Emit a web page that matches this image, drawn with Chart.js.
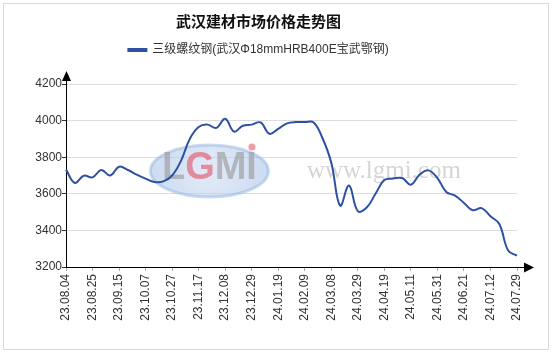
<!DOCTYPE html>
<html>
<head>
<meta charset="utf-8">
<script src="https://cdn.jsdelivr.net/npm/chart.js@4/dist/chart.umd.min.js"></script>
<style>
  html, body { margin: 0; padding: 0; background: #fff; }
  #wrap { width: 554px; height: 356px; position: relative; }
</style>
</head>
<body>
<div id="wrap"><canvas id="c" width="554" height="356"></canvas></div>
<script>
const chartTitle = '武汉建材市场价格走势图';
const seriesName = '三级螺纹钢(武汉Φ18mmHRB400E宝武鄂钢)';
const tickLabels = ['23.08.04','23.08.25','23.09.15','23.10.07','23.10.27','23.11.17','23.12.08','23.12.29','24.01.19','24.02.09','24.03.08','24.03.29','24.04.19','24.05.11','24.05.31','24.06.21','24.07.12','24.07.29'];
const pointsPerLabel = 3;
const prices = [
  3732, 3659, 3699, 3690, 3730, 3700, 3748, 3730, 3705, 3683,
  3665, 3668, 3700, 3780, 3900, 3965, 3978, 3960, 4010, 3940,
  3972, 3978, 3990, 3928, 3955, 3985, 3992, 3992, 3990, 3905,
  3770, 3535, 3645, 3505, 3525, 3600, 3675, 3683, 3686, 3650,
  3705, 3728, 3686, 3610, 3590, 3550, 3510, 3522, 3477, 3435,
  3290, 3262
];
const yMin = 3200, yMax = 4200, yStep = 200;

// categories: one per data point, labelled every third point
const categories = prices.map((_, i) => (i % pointsPerLabel === 0 ? tickLabels[i / pointsPerLabel] : ''));

const latin = "'Liberation Sans', Arial, 'Noto Sans CJK SC', sans-serif";
const lineColor = '#2E50A2';

const decorPlugin = {
  id: 'decor',
  beforeLayout(chart) {
    const lg = chart.legend;
    if (lg && !lg._patched) {
      const orig = lg.fit;
      lg.fit = function () { orig.call(this); this.height += 18; };
      lg._patched = true;
    }
  },
  beforeDraw(chart) {
    const ctx = chart.ctx;
    ctx.save();
    ctx.fillStyle = '#fff';
    ctx.fillRect(0, 0, chart.width, chart.height);
    ctx.strokeStyle = '#d9d9d9';
    ctx.lineWidth = 1;
    ctx.strokeRect(3.5, 3.5, chart.width - 9, chart.height - 10);
    ctx.restore();
  },
  beforeDatasetsDraw(chart) {
    const ctx = chart.ctx, a = chart.chartArea;
    const w = a.right - a.left, h = a.bottom - a.top;
    ctx.save();
    // LGMI logo watermark
    const cx = a.left + w * 0.318, cy = a.top + h * 0.475;
    const g = ctx.createRadialGradient(cx, cy, 5, cx, cy, 60);
    g.addColorStop(0, 'rgba(200,215,240,0.55)');
    g.addColorStop(1, 'rgba(160,190,230,0.55)');
    ctx.beginPath();
    ctx.ellipse(cx, cy, 59, 26, 0, 0, Math.PI * 2);
    ctx.fillStyle = g;
    ctx.fill();
    ctx.lineWidth = 3;
    ctx.strokeStyle = 'rgba(140,175,220,0.45)';
    ctx.stroke();
    ctx.font = "bold 38px 'Liberation Sans', Arial, sans-serif";
    ctx.textBaseline = 'middle';
    ctx.textAlign = 'left';
    const parts = [['L', 'rgba(150,150,150,0.6)'], ['G', 'rgba(225,80,100,0.6)'], ['M', 'rgba(150,150,150,0.6)'], ['I', 'rgba(150,150,150,0.6)']];
    let total = parts.reduce((s, p) => s + ctx.measureText(p[0]).width, 0);
    let x = cx - total / 2;
    parts.forEach(p => {
      ctx.fillStyle = p[1];
      ctx.fillText(p[0], x, cy - 2);
      x += ctx.measureText(p[0]).width;
    });
    ctx.beginPath();
    ctx.arc(x - 5, cy - 24, 3.5, 0, Math.PI * 2);
    ctx.fillStyle = 'rgba(235,90,110,0.6)';
    ctx.fill();
    // url watermark
    ctx.font = "25px 'Liberation Serif', 'Times New Roman', serif";
    ctx.fillStyle = 'rgba(150,150,150,0.4)';
    ctx.textAlign = 'center';
    ctx.fillText('www.lgmi.com', a.left + w * 0.705, a.top + h * 0.48);
    ctx.restore();
  },
  afterDraw(chart) {
    const ctx = chart.ctx, a = chart.chartArea;
    ctx.save();
    ctx.strokeStyle = '#000';
    ctx.fillStyle = '#000';
    ctx.lineWidth = 1;
    // y axis extension + arrow
    const lx = Math.round(a.left) + 0.5;
    ctx.beginPath();
    ctx.moveTo(lx, a.top);
    ctx.lineTo(lx, a.top - 5);
    ctx.stroke();
    ctx.beginPath();
    ctx.moveTo(lx, a.top - 13);
    ctx.lineTo(lx - 4.5, a.top - 3);
    ctx.lineTo(lx + 4.5, a.top - 3);
    ctx.closePath();
    ctx.fill();
    // x axis extension + arrow
    const by = Math.round(a.bottom) + 0.5;
    ctx.beginPath();
    ctx.moveTo(a.right, by);
    ctx.lineTo(a.right + 9, by);
    ctx.stroke();
    ctx.beginPath();
    ctx.moveTo(a.right + 17, by);
    ctx.lineTo(a.right + 7, by - 5);
    ctx.lineTo(a.right + 7, by + 5);
    ctx.closePath();
    ctx.fill();
    ctx.restore();
  }
};

new Chart(document.getElementById('c'), {
  type: 'line',
  data: {
    labels: categories,
    datasets: [{
      label: seriesName,
      data: prices,
      borderColor: lineColor,
      backgroundColor: lineColor,
      borderWidth: 2,
      pointRadius: 0,
      tension: 0.4,
      fill: false
    }]
  },
  options: {
    responsive: false,
    animation: false,
    devicePixelRatio: 1,
    layout: { padding: { left: 0, right: 37, top: 0, bottom: 0 } },
    plugins: {
      title: {
        display: true,
        text: chartTitle,
        color: '#111',
        font: { family: "'Noto Sans CJK SC', sans-serif", size: 15, weight: 'bold', lineHeight: 1.2 },
        padding: { top: 12, bottom: 8 }
      },
      legend: {
        display: true,
        labels: {
          boxWidth: 18,
          boxHeight: 2,
          padding: 6,
          color: '#333',
          font: { family: latin, size: 12 }
        }
      },
      tooltip: { enabled: false }
    },
    scales: {
      x: {
        type: 'category',
        offset: false,
        afterBuildTicks(s) { s.ticks = s.ticks.filter(t => categories[t.value] !== ''); },
        afterFit(s) { s.height = 89; },
        border: { display: true, color: '#000', width: 1 },
        grid: { drawOnChartArea: false, drawTicks: true, tickLength: 4, tickColor: '#aaa' },
        ticks: {
          autoSkip: false,
          minRotation: 90,
          maxRotation: 90,
          padding: 3,
          color: '#333',
          font: { family: latin, size: 12 }
        }
      },
      y: {
        min: yMin,
        max: yMax,
        afterFit(s) { s.width = 66; },
        border: { display: true, color: '#000', width: 1 },
        grid: { color: '#dddddd', lineWidth: 1, drawTicks: true, tickLength: 4, tickColor: '#333' },
        ticks: {
          stepSize: yStep,
          padding: 0,
          color: '#333',
          font: { family: latin, size: 12 },
          callback: v => String(v)
        }
      }
    }
  },
  plugins: [decorPlugin]
});
</script>
</body>
</html>
